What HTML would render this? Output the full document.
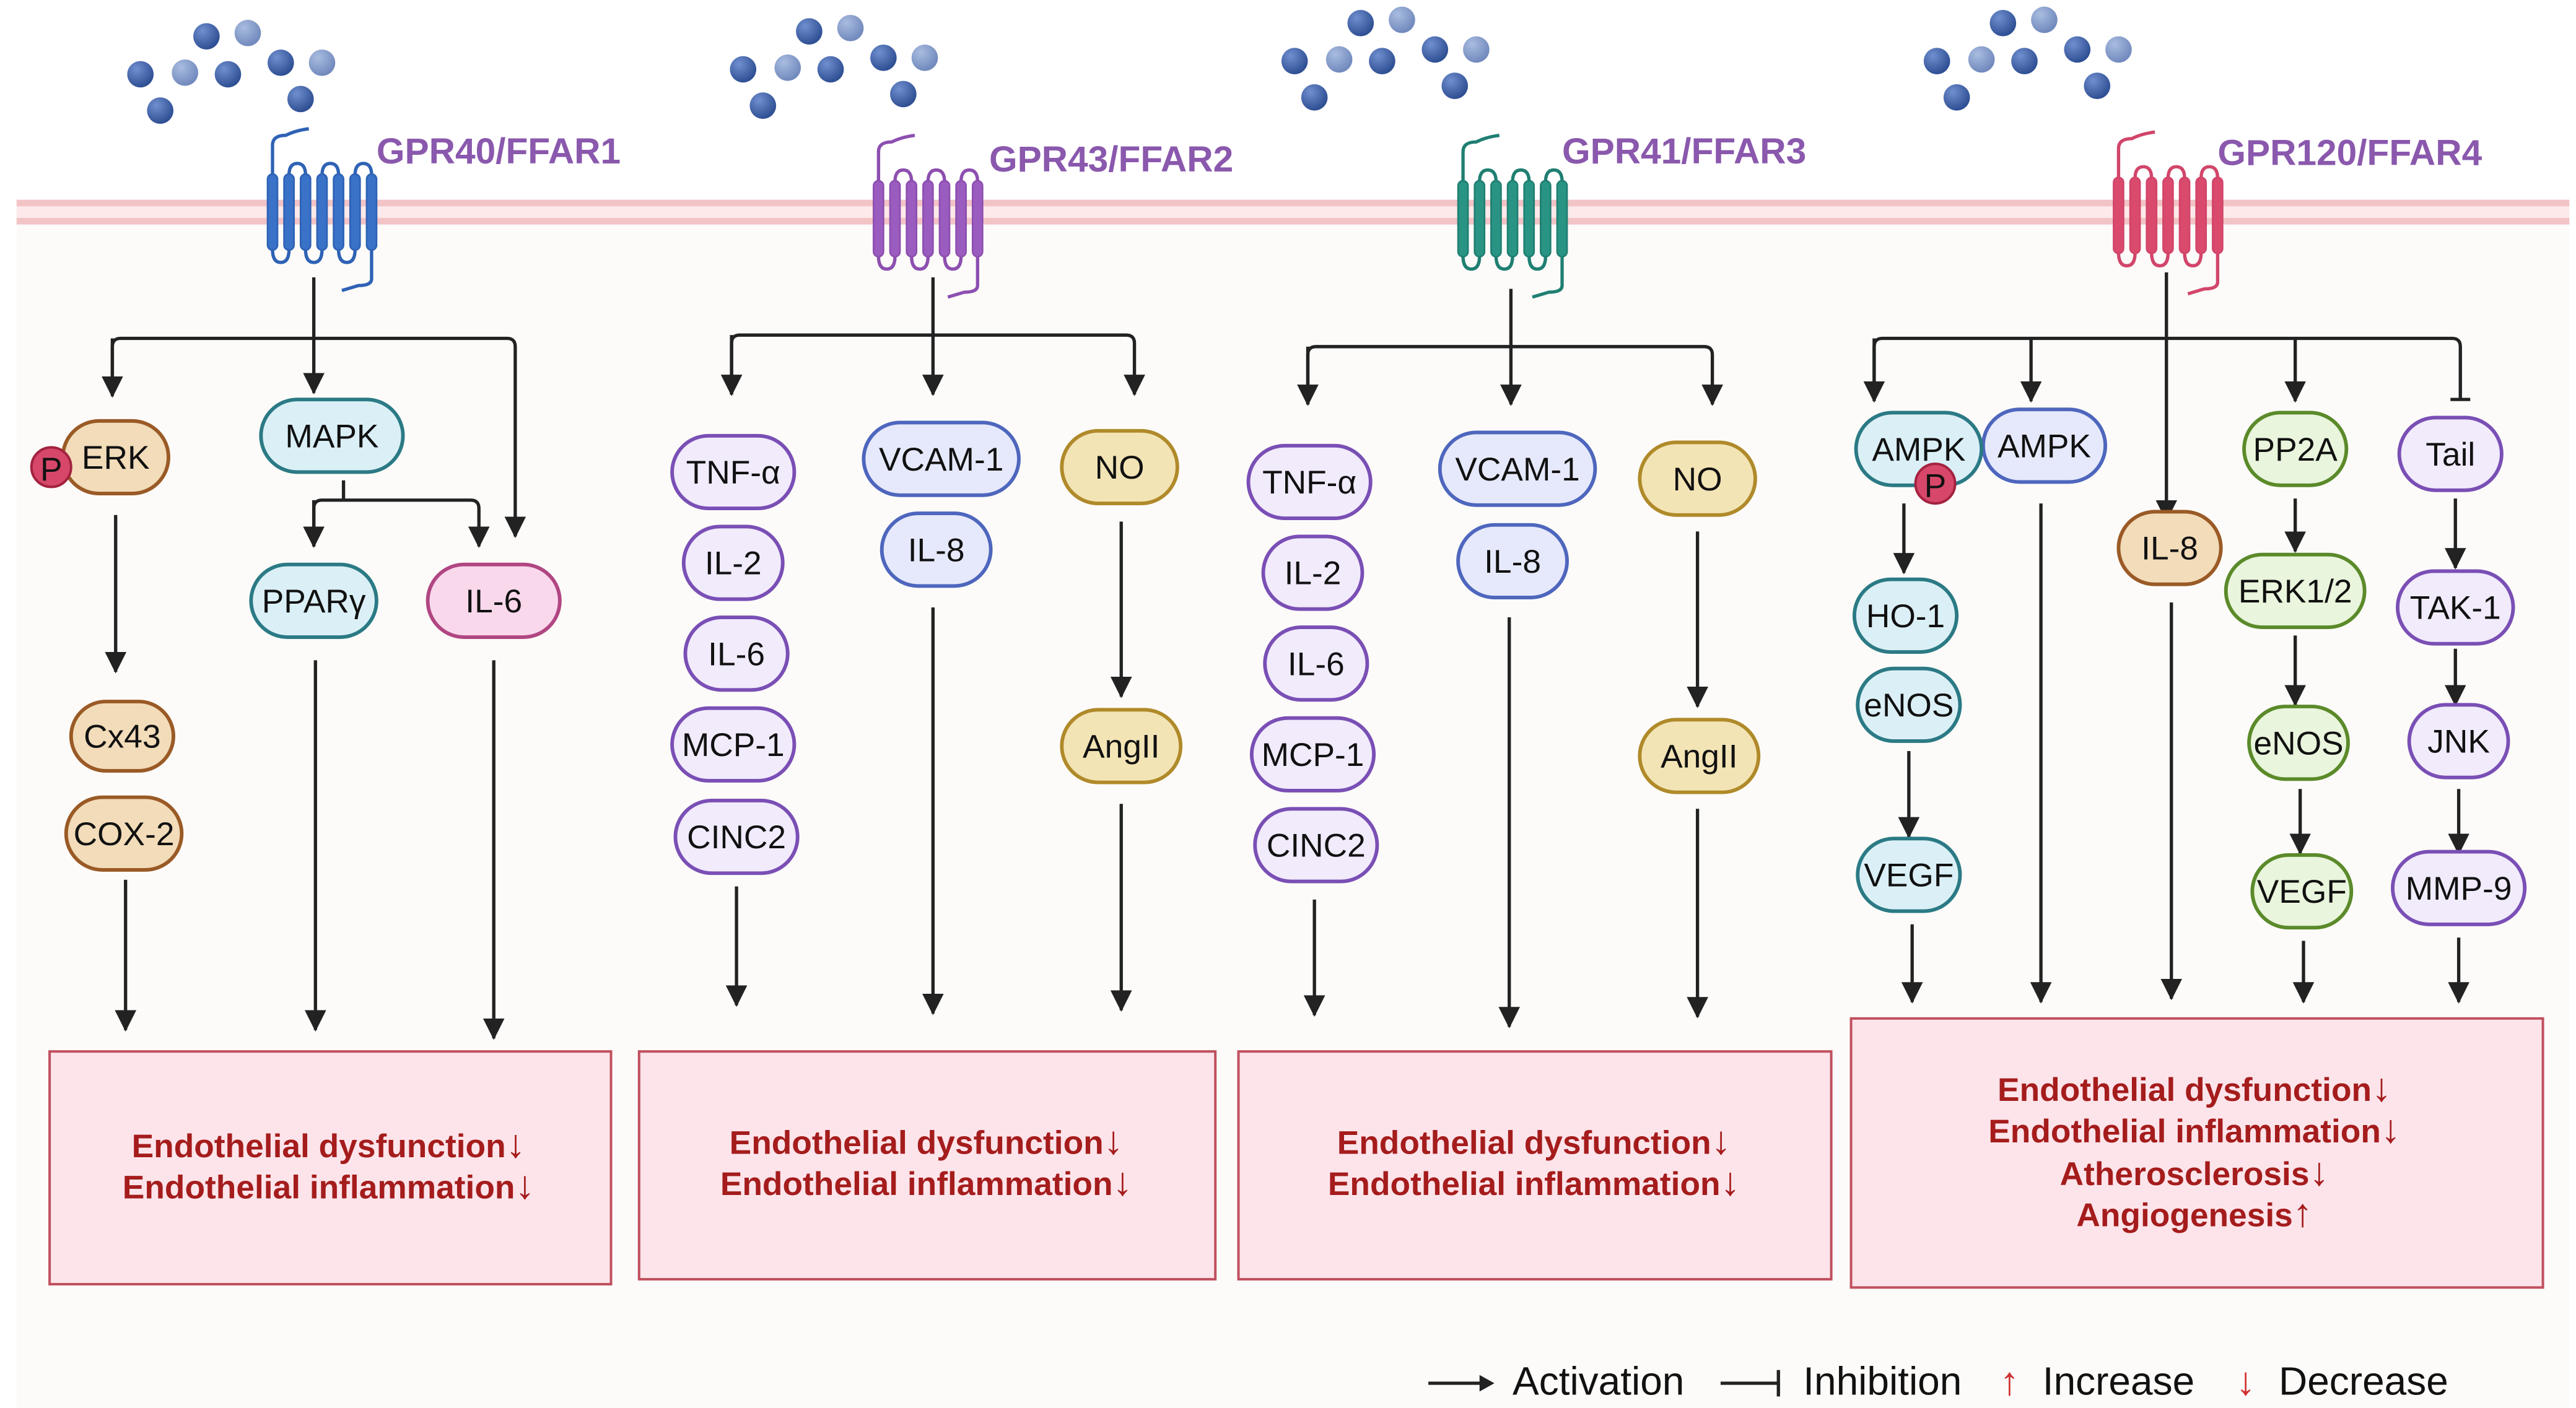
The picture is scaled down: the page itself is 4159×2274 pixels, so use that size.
<!DOCTYPE html>
<html><head><meta charset="utf-8"><style>html,body{margin:0;padding:0;background:#fff}svg{display:block}</style></head>
<body>
<svg width="4159" height="2274" viewBox="0 0 1560 853" xmlns="http://www.w3.org/2000/svg" font-family="Liberation Sans, sans-serif">
<defs>
<marker id="a" markerWidth="13" markerHeight="13" refX="12" refY="6.5" orient="auto" markerUnits="userSpaceOnUse" viewBox="0 0 13 13"><path d="M0,0 L13,6.5 L0,13 z" fill="#222"/></marker>
<radialGradient id="dd" cx="0.35" cy="0.3" r="0.7"><stop offset="0" stop-color="#6f8fcf"/><stop offset="1" stop-color="#2f4f94"/></radialGradient>
<radialGradient id="dl" cx="0.35" cy="0.3" r="0.7"><stop offset="0" stop-color="#a9bde0"/><stop offset="1" stop-color="#7189bd"/></radialGradient>
<g id="rec" fill="none" stroke-width="2">
<path d="M0,10 L0,-8 q0,-6 8,-6 q6,-3 14,-4" />
<rect x="-2.5" y="10" width="5" height="45" rx="2.5"/>
<rect x="7.5" y="10" width="5" height="45" rx="2.5"/>
<rect x="17.5" y="10" width="5" height="45" rx="2.5"/>
<rect x="27.5" y="10" width="5" height="45" rx="2.5"/>
<rect x="37.5" y="10" width="5" height="45" rx="2.5"/>
<rect x="47.5" y="10" width="5" height="45" rx="2.5"/>
<rect x="57.5" y="10" width="5" height="45" rx="2.5"/>
<path d="M0,55 q0,8 5,8 q5,0 5,-8 M20,55 q0,8 5,8 q5,0 5,-8 M40,55 q0,8 5,8 q5,0 5,-8 M10,10 q0,-7 5,-7 q5,0 5,7 M30,10 q0,-7 5,-7 q5,0 5,7 M50,10 q0,-7 5,-7 q5,0 5,7 M60,55 l0,18 q0,4 -8,4 l-10,3"/>
</g>
<g id="bars"><rect x="-2.5" y="10" width="5" height="45" rx="2.5"/><rect x="7.5" y="10" width="5" height="45" rx="2.5"/><rect x="17.5" y="10" width="5" height="45" rx="2.5"/><rect x="27.5" y="10" width="5" height="45" rx="2.5"/><rect x="37.5" y="10" width="5" height="45" rx="2.5"/><rect x="47.5" y="10" width="5" height="45" rx="2.5"/><rect x="57.5" y="10" width="5" height="45" rx="2.5"/></g>
<g id="dots">
<circle cx="125" cy="22" r="8" fill="url(#dd)"/><circle cx="150" cy="20" r="8" fill="url(#dl)"/>
<circle cx="85" cy="45" r="8" fill="url(#dd)"/><circle cx="112" cy="44" r="8" fill="url(#dl)"/>
<circle cx="138" cy="45" r="8" fill="url(#dd)"/><circle cx="170" cy="38" r="8" fill="url(#dd)"/>
<circle cx="195" cy="38" r="8" fill="url(#dl)"/><circle cx="97" cy="67" r="8" fill="url(#dd)"/>
<circle cx="182" cy="60" r="8" fill="url(#dd)"/>
</g>
</defs>
<rect x="0" y="0" width="1560" height="853" fill="#ffffff"/>
<rect x="10" y="130" width="1546" height="723" fill="#fcfbf9"/>
<rect x="10" y="121" width="1546" height="15" fill="#fde9ea"/>
<rect x="10" y="121" width="1546" height="4" fill="#f2c4c6"/>
<rect x="10" y="132" width="1546" height="4" fill="#f2c4c6"/>

<use href="#dots"/>
<use href="#dots" transform="translate(365,-3)"/>
<use href="#dots" transform="translate(699,-8)"/>
<use href="#dots" transform="translate(1088,-8)"/>

<g transform="translate(165,96)" stroke="#2e62b5"><use href="#rec"/></g>
<g transform="translate(532,100)" stroke="#8d4fb0"><use href="#rec"/></g>
<g transform="translate(886,100)" stroke="#1f7f72"><use href="#rec"/></g>
<g transform="translate(1283,98)" stroke="#d2456a"><use href="#rec"/></g>
<g transform="translate(165,96)" fill="#3a72c8"><use href="#bars"/></g>
<g transform="translate(532,100)" fill="#9b5cc0"><use href="#bars"/></g>
<g transform="translate(886,100)" fill="#2a9484"><use href="#bars"/></g>
<g transform="translate(1283,98)" fill="#d94a6c"><use href="#bars"/></g>

<g font-weight="bold" font-size="22" fill="#8a58ad">
<text x="228" y="99">GPR40/FFAR1</text>
<text x="599" y="104">GPR43/FFAR2</text>
<text x="946" y="99">GPR41/FFAR3</text>
<text x="1343" y="100">GPR120/FFAR4</text>
</g>

<g stroke="#222" stroke-width="2" fill="none">
<path d="M190,168 V205"/><path d="M68,238 V210 q0,-5 5,-5 H307 q5,0 5,5 V325" marker-end="url(#a)"/>
<path d="M68,205 V240" marker-end="url(#a)"/><path d="M190,205 V238" marker-end="url(#a)"/>
<path d="M208,291 V303"/><path d="M190,331 V308 q0,-5 5,-5 H285 q5,0 5,5 V331" marker-end="url(#a)"/><path d="M190,303 V331" marker-end="url(#a)"/>
<path d="M70,312 V407" marker-end="url(#a)"/><path d="M76,533 V624" marker-end="url(#a)"/>
<path d="M191,400 V624" marker-end="url(#a)"/><path d="M299,400 V629" marker-end="url(#a)"/>

<path d="M565,168 V203"/><path d="M443,239 V208 q0,-5 5,-5 H682 q5,0 5,5 V239" marker-end="url(#a)"/><path d="M443,203 V239" marker-end="url(#a)"/><path d="M565,203 V239" marker-end="url(#a)"/>
<path d="M446,537 V609" marker-end="url(#a)"/><path d="M565,368 V614" marker-end="url(#a)"/>
<path d="M679,316 V422" marker-end="url(#a)"/><path d="M679,487 V612" marker-end="url(#a)"/>

<path d="M915,175 V210"/><path d="M792,245 V215 q0,-5 5,-5 H1032 q5,0 5,5 V245" marker-end="url(#a)"/><path d="M792,210 V245" marker-end="url(#a)"/><path d="M915,210 V245" marker-end="url(#a)"/>
<path d="M796,545 V615" marker-end="url(#a)"/><path d="M914,374 V622" marker-end="url(#a)"/>
<path d="M1028,322 V428" marker-end="url(#a)"/><path d="M1028,490 V616" marker-end="url(#a)"/>

<path d="M1312,165 V205"/><path d="M1135,241 V210 q0,-5 5,-5 H1485 q5,0 5,5 V242"/><path d="M1135,205 V243" marker-end="url(#a)"/>
<path d="M1230,205 V243" marker-end="url(#a)"/><path d="M1312,205 V315" marker-end="url(#a)"/><path d="M1390,205 V243" marker-end="url(#a)"/>
<path d="M1484,242 H1496"/>
<path d="M1153,305 V347" marker-end="url(#a)"/><path d="M1156,455 V507" marker-end="url(#a)"/><path d="M1158,560 V607" marker-end="url(#a)"/>
<path d="M1236,305 V607" marker-end="url(#a)"/><path d="M1315,365 V605" marker-end="url(#a)"/>
<path d="M1390,302 V334" marker-end="url(#a)"/><path d="M1390,385 V427" marker-end="url(#a)"/><path d="M1393,478 V517" marker-end="url(#a)"/><path d="M1395,570 V607" marker-end="url(#a)"/>
<path d="M1487,302 V344" marker-end="url(#a)"/><path d="M1487,393 V427" marker-end="url(#a)"/><path d="M1489,478 V517" marker-end="url(#a)"/><path d="M1489,568 V607" marker-end="url(#a)"/>
</g>

<g stroke-width="2.2" font-size="20" text-anchor="middle" fill="#111">
<rect x="38" y="255" width="64" height="44" rx="22" fill="#f2dcb9" stroke="#9a5a26"/><text x="70" y="284" fill="#111" stroke="none">ERK</text>
<circle cx="31" cy="283" r="12" fill="#d6476a" stroke="#a3223f" stroke-width="1.5"/><text x="31" y="291" stroke="none" font-size="20">P</text>
<rect x="158" y="242" width="86" height="44" rx="22" fill="#dbf0f6" stroke="#2b7a85"/><text x="201" y="271" stroke="none">MAPK</text>
<rect x="152" y="342" width="76" height="44" rx="22" fill="#dbf0f6" stroke="#2b7a85"/><text x="190" y="371" stroke="none">PPARγ</text>
<rect x="259" y="342" width="80" height="44" rx="22" fill="#f9d8ec" stroke="#b04682"/><text x="299" y="371" stroke="none">IL-6</text>
<rect x="43" y="425" width="62" height="42" rx="21" fill="#f2dcb9" stroke="#9a5a26"/><text x="74" y="453" stroke="none">Cx43</text>
<rect x="40" y="483" width="70" height="44" rx="22" fill="#f2dcb9" stroke="#9a5a26"/><text x="75" y="512" stroke="none">COX-2</text>
<g fill="#f1ebfc" stroke="#7a4fb5">
<rect x="407" y="264" width="74" height="44" rx="22"/><rect x="414" y="319" width="60" height="44" rx="22"/><rect x="415" y="374" width="62" height="44" rx="22"/><rect x="407" y="429" width="74" height="44" rx="22"/><rect x="409" y="485" width="74" height="44" rx="22"/>
<rect x="756" y="270" width="74" height="44" rx="22"/><rect x="765" y="325" width="60" height="44" rx="22"/><rect x="766" y="380" width="62" height="44" rx="22"/><rect x="758" y="435" width="74" height="44" rx="22"/><rect x="760" y="490" width="74" height="44" rx="22"/>
<rect x="1453" y="253" width="62" height="44" rx="22"/><rect x="1452" y="346" width="70" height="44" rx="22"/><rect x="1459" y="427" width="60" height="44" rx="22"/><rect x="1449" y="516" width="80" height="44" rx="22"/>
</g>
<g fill="#e6e9fb" stroke="#4e66bd">
<rect x="523" y="256" width="94" height="44" rx="22"/><rect x="534" y="311" width="66" height="44" rx="22"/>
<rect x="872" y="262" width="94" height="44" rx="22"/><rect x="883" y="318" width="66" height="44" rx="22"/>
<rect x="1201" y="248" width="74" height="44" rx="22"/>
</g>
<g fill="#f3e4b5" stroke="#b08a2a">
<rect x="643" y="261" width="70" height="44" rx="22"/><rect x="643" y="430" width="72" height="44" rx="22"/>
<rect x="993" y="268" width="70" height="44" rx="22"/><rect x="993" y="436" width="72" height="44" rx="22"/>
</g>
<rect x="1283" y="310" width="62" height="44" rx="22" fill="#f2dcb9" stroke="#9a5a26"/>
<g fill="#dbf0f6" stroke="#2b7a85">
<rect x="1124" y="250" width="76" height="44" rx="22"/><rect x="1123" y="351" width="62" height="44" rx="22"/><rect x="1125" y="405" width="62" height="44" rx="22"/><rect x="1125" y="508" width="62" height="44" rx="22"/>
</g>
<circle cx="1172" cy="293" r="12" fill="#d6476a" stroke="#a3223f" stroke-width="1.5"/>
<g fill="#e9f5dc" stroke="#5b8a2a">
<rect x="1359" y="250" width="62" height="44" rx="22"/><rect x="1348" y="336" width="84" height="44" rx="22"/><rect x="1362" y="428" width="60" height="44" rx="22"/><rect x="1364" y="518" width="60" height="44" rx="22"/>
</g>
<g stroke="none">
<text x="444" y="293">TNF-α</text><text x="444" y="348">IL-2</text><text x="446" y="403">IL-6</text><text x="444" y="458">MCP-1</text><text x="446" y="514">CINC2</text>
<text x="793" y="299">TNF-α</text><text x="795" y="354">IL-2</text><text x="797" y="409">IL-6</text><text x="795" y="464">MCP-1</text><text x="797" y="519">CINC2</text>
<text x="570" y="285">VCAM-1</text><text x="567" y="340">IL-8</text><text x="919" y="291">VCAM-1</text><text x="916" y="347">IL-8</text>
<text x="678" y="290">NO</text><text x="679" y="459">AngII</text><text x="1028" y="297">NO</text><text x="1029" y="465">AngII</text>
<text x="1162" y="279">AMPK</text><text x="1172" y="301" font-size="20">P</text><text x="1238" y="277">AMPK</text><text x="1314" y="339">IL-8</text>
<text x="1390" y="279">PP2A</text><text x="1484" y="282">Tail</text>
<text x="1154" y="380">HO-1</text><text x="1156" y="434">eNOS</text><text x="1156" y="537">VEGF</text>
<text x="1390" y="365">ERK1/2</text><text x="1392" y="457">eNOS</text><text x="1394" y="547">VEGF</text>
<text x="1487" y="375">TAK-1</text><text x="1489" y="456">JNK</text><text x="1489" y="545">MMP-9</text>
</g>
</g>

<g fill="#fce4ea" stroke="#c0505f" stroke-width="1.5">
<rect x="30" y="637" width="340" height="141"/>
<rect x="387" y="637" width="349" height="138"/>
<rect x="750" y="637" width="359" height="138"/>
<rect x="1121" y="617" width="419" height="163"/>
</g>
<g font-weight="bold" font-size="20" fill="#a51c1c" text-anchor="middle">
<text x="199" y="701">Endothelial dysfunction<tspan font-size="24">↓</tspan></text><text x="199" y="726">Endothelial inflammation<tspan font-size="24">↓</tspan></text>
<text x="561" y="699">Endothelial dysfunction<tspan font-size="24">↓</tspan></text><text x="561" y="724">Endothelial inflammation<tspan font-size="24">↓</tspan></text>
<text x="929" y="699">Endothelial dysfunction<tspan font-size="24">↓</tspan></text><text x="929" y="724">Endothelial inflammation<tspan font-size="24">↓</tspan></text>
<text x="1329" y="667">Endothelial dysfunction<tspan font-size="24">↓</tspan></text><text x="1329" y="692">Endothelial inflammation<tspan font-size="24">↓</tspan></text>
<text x="1329" y="718">Atherosclerosis<tspan font-size="24">↓</tspan></text><text x="1329" y="743">Angiogenesis<tspan font-size="24">↑</tspan></text>
</g>

<g font-size="24" fill="#111">
<path d="M865,838 H898" stroke="#222" stroke-width="2"/><path d="M896,833 L905,838 L896,843 z" fill="#222"/>
<text x="916" y="845">Activation</text>
<path d="M1042,838 H1077 M1077,830 V846" stroke="#222" stroke-width="2" fill="none"/>
<text x="1092" y="845">Inhibition</text>
<text x="1211" y="845" fill="#d03030">↑</text><text x="1237" y="845">Increase</text>
<text x="1354" y="845" fill="#d03030">↓</text><text x="1380" y="845">Decrease</text>
</g>
</svg>
</body></html>
